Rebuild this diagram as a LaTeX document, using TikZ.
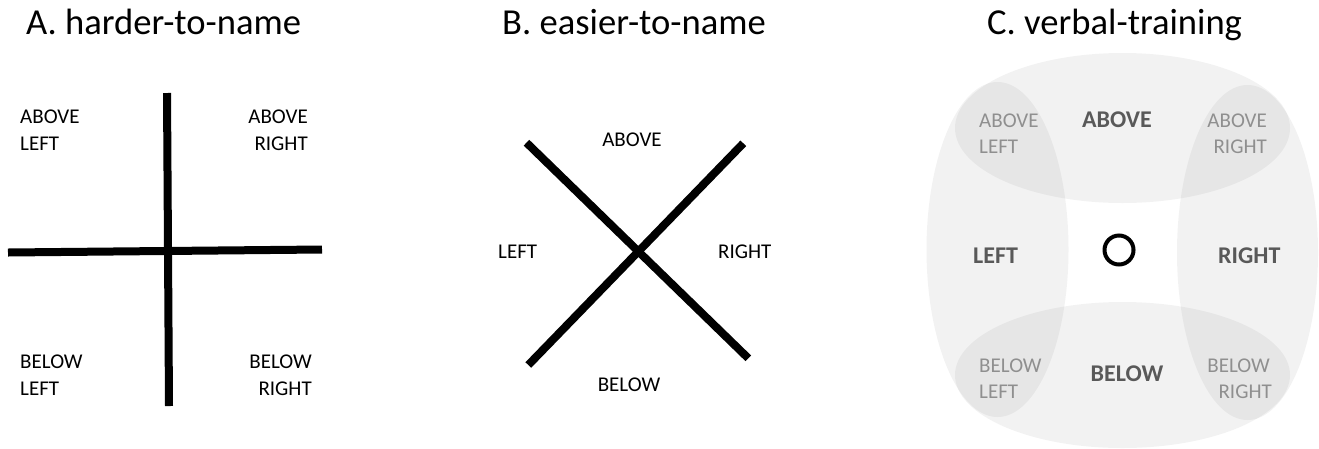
\documentclass[tikz,border=0pt]{standalone}
\usepackage{fontspec}
\setmainfont{Carlito}
\definecolor{boldgray}{HTML}{595959}
\definecolor{lightlab}{HTML}{8F8F8F}
\begin{document}
\begin{tikzpicture}[x=1pt,y=-1pt,
  title/.style={font=\fontsize{36.6}{44}\selectfont, inner sep=0pt},
  lab/.style={font=\fontsize{21}{26}\selectfont, inner sep=0pt},
  blab/.style={font=\fontsize{24}{29}\selectfont\bfseries, text=boldgray, inner sep=0pt},
  glab/.style={font=\fontsize{21}{26}\selectfont, text=lightlab, inner sep=0pt},
  bar/.style={line width=8pt, black},
  zone/.style={fill=black, fill opacity=0.05, draw=none}]
\useasboundingbox (0,0) rectangle (1319,448);

% titles
\node[title,anchor=base west] (ta) at (26,34) {A. harder-to-name};
\node[title,anchor=base west] (tb) at (502,34) {B. easier-to-name};
\node[title,anchor=base west] (tc) at (987,34) {C. verbal-training};

% panel A
\coordinate (av1) at (167,93);
\coordinate (av2) at (169,406);
\coordinate (ah1) at (8,252.5);
\coordinate (ah2) at (322,249.5);
\draw[bar] (av1) -- (av2);
\draw[bar] (ah1) -- (ah2);
\node[lab,anchor=base west] (aal1) at (20,123) {ABOVE};
\node[lab,anchor=base west] (aal2) at (20,150) {LEFT};
\node[lab,anchor=base east] (aar1) at (308,123) {ABOVE};
\node[lab,anchor=base east] (aar2) at (308,150) {RIGHT};
\node[lab,anchor=base west] (abl1) at (20,368) {BELOW};
\node[lab,anchor=base west] (abl2) at (20,395) {LEFT};
\node[lab,anchor=base east] (abr1) at (312,368) {BELOW};
\node[lab,anchor=base east] (abr2) at (312,395) {RIGHT};

% panel B
\coordinate (b1) at (526.5,142.7);
\coordinate (b2) at (748.3,358.3);
\coordinate (b3) at (528.3,365);
\coordinate (b4) at (743.3,143.3);
\draw[bar] (b1) -- (b2);
\draw[bar] (b3) -- (b4);
\node[lab,anchor=base] (bab) at (632,146) {ABOVE};
\node[lab,anchor=base west] (ble) at (498,258) {LEFT};
\node[lab,anchor=base west] (bri) at (718,258) {RIGHT};
\node[lab,anchor=base] (bbe) at (629,391) {BELOW};

% panel C
\fill[zone] (1122.5,128) ellipse [x radius=167.5, y radius=75];
\fill[zone] (1122.5,375) ellipse [x radius=167.5, y radius=73];
\fill[zone] (997.5,249.5) ellipse [x radius=71, y radius=167.5];
\fill[zone] (1247.5,252.5) ellipse [x radius=70.5, y radius=167.5];
\node[draw=black, line width=4pt, circle, minimum size=29pt, inner sep=0pt] (cc) at (1119,250) {};
\node[blab,anchor=base] (cab) at (1117,127) {ABOVE};
\node[blab,anchor=base west] (cle) at (973,263) {LEFT};
\node[blab,anchor=base west] (cri) at (1218,263) {RIGHT};
\node[blab,anchor=base] (cbe) at (1127,381) {BELOW};
\node[glab,anchor=base west] (cal1) at (979,127) {ABOVE};
\node[glab,anchor=base west] (cal2) at (979,153) {LEFT};
\node[glab,anchor=base east] (car1) at (1267,127) {ABOVE};
\node[glab,anchor=base east] (car2) at (1267,153) {RIGHT};
\node[glab,anchor=base west] (cbl1) at (979,372) {BELOW};
\node[glab,anchor=base west] (cbl2) at (979,398) {LEFT};
\node[glab,anchor=base east] (cbr1) at (1270,372) {BELOW};
\node[glab,anchor=base east] (cbr2) at (1272,398) {RIGHT};
\end{tikzpicture}
\end{document}
